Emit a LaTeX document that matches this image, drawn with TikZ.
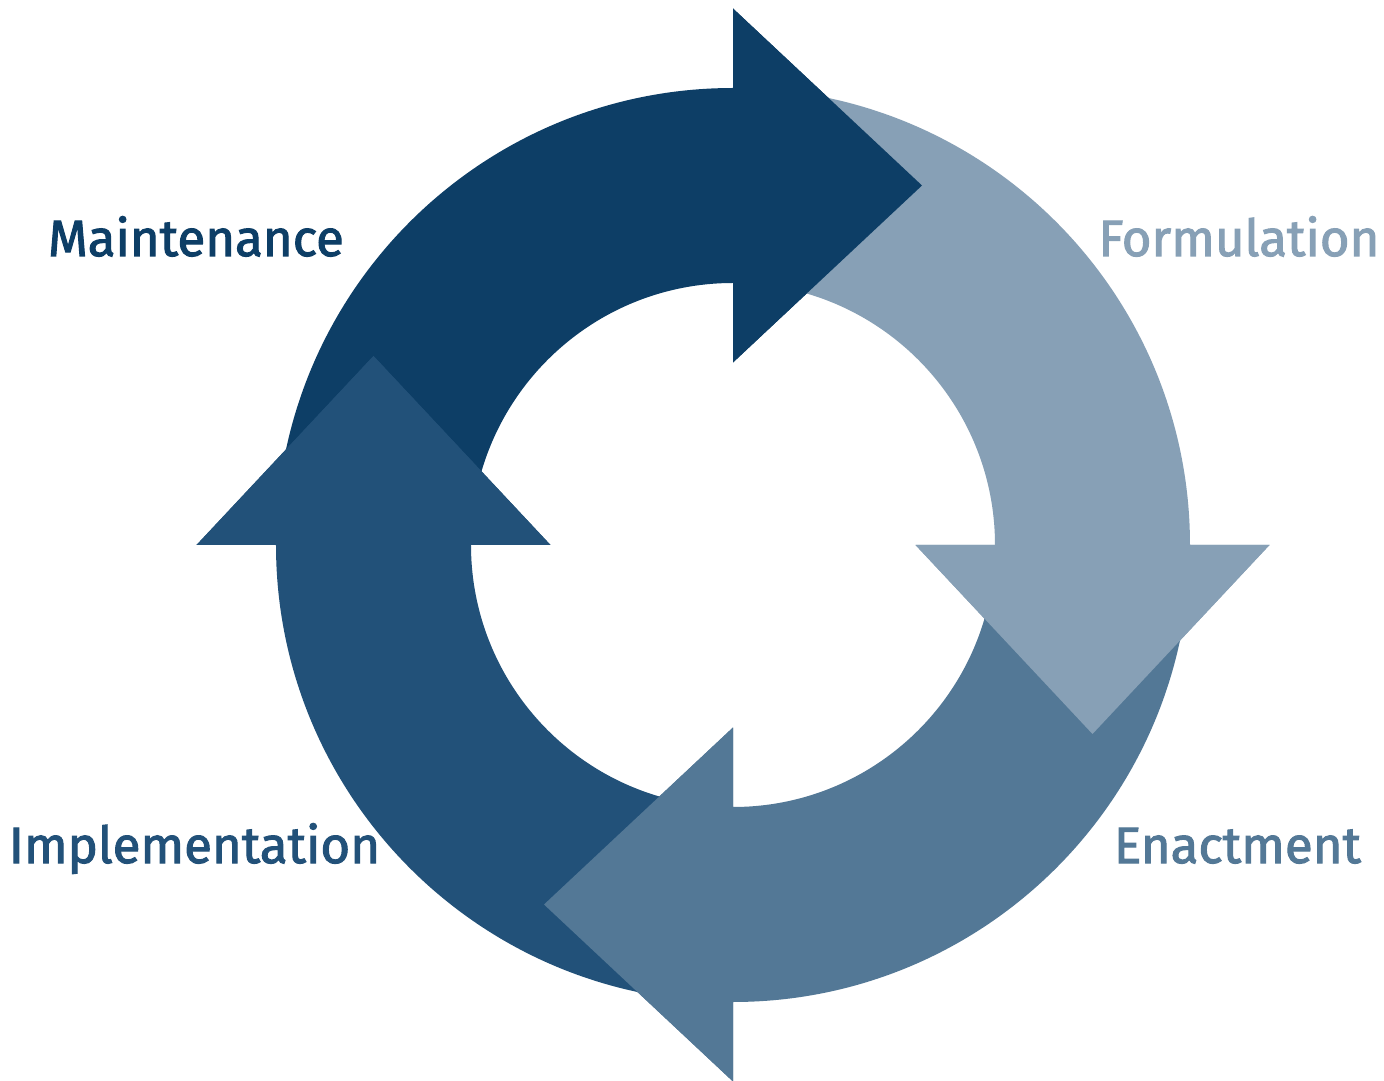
\documentclass[tikz,border=0pt]{standalone}
\usepackage{fontspec}
\setmainfont{Fira Sans}
\newfontfamily\labfont[FakeBold=2]{Fira Sans}
\definecolor{cMaint}{HTML}{0D3E66}
\definecolor{cForm}{HTML}{87A0B6}
\definecolor{cEnact}{HTML}{537896}
\definecolor{cImpl}{HTML}{225179}
\tikzset{
  lab/.style={font=\labfont\fontsize{51}{56}\selectfont, inner sep=0pt, anchor=base},
}
\newcommand{\arrowpath}{(179:457pt) arc[start angle=179, end angle=90, radius=457pt]
  -- (90:536.5pt) -- (189pt,359.5pt) -- (90:182.5pt) -- (90:262pt)
  arc[start angle=90, end angle=179, radius=262pt] -- cycle}
\newcommand{\headpath}{(90:536.5pt) -- (189pt,359.5pt) -- (90:182.5pt) -- cycle}
\begin{document}
\begin{tikzpicture}[x=1pt,y=1pt]
\useasboundingbox (-733,-536) rectangle (651,545);
\fill[white] (-733,-536) rectangle (651,545);
% full arrows
\begin{scope}[rotate=0]\fill[cMaint] \arrowpath;\end{scope}
\begin{scope}[rotate=-90]\fill[cForm] \arrowpath;\end{scope}
\begin{scope}[rotate=-180]\fill[cEnact] \arrowpath;\end{scope}
\begin{scope}[rotate=-270]\fill[cImpl] \arrowpath;\end{scope}
% heads on top
\begin{scope}[rotate=0]\fill[cMaint] \headpath;\end{scope}
\begin{scope}[rotate=-90]\fill[cForm] \headpath;\end{scope}
\begin{scope}[rotate=-180]\fill[cEnact] \headpath;\end{scope}
\begin{scope}[rotate=-270]\fill[cImpl] \headpath;\end{scope}
% labels
\node[lab, text=cMaint] (maint) at (-537,289) {Maintenance};
\node[lab, text=cForm] (form) at (506,289) {Formulation};
\node[lab, text=cImpl] (impl) at (-538.5,-318) {Implementation};
\node[lab, text=cEnact] (enact) at (504.5,-318) {Enactment};
\end{tikzpicture}
\end{document}
